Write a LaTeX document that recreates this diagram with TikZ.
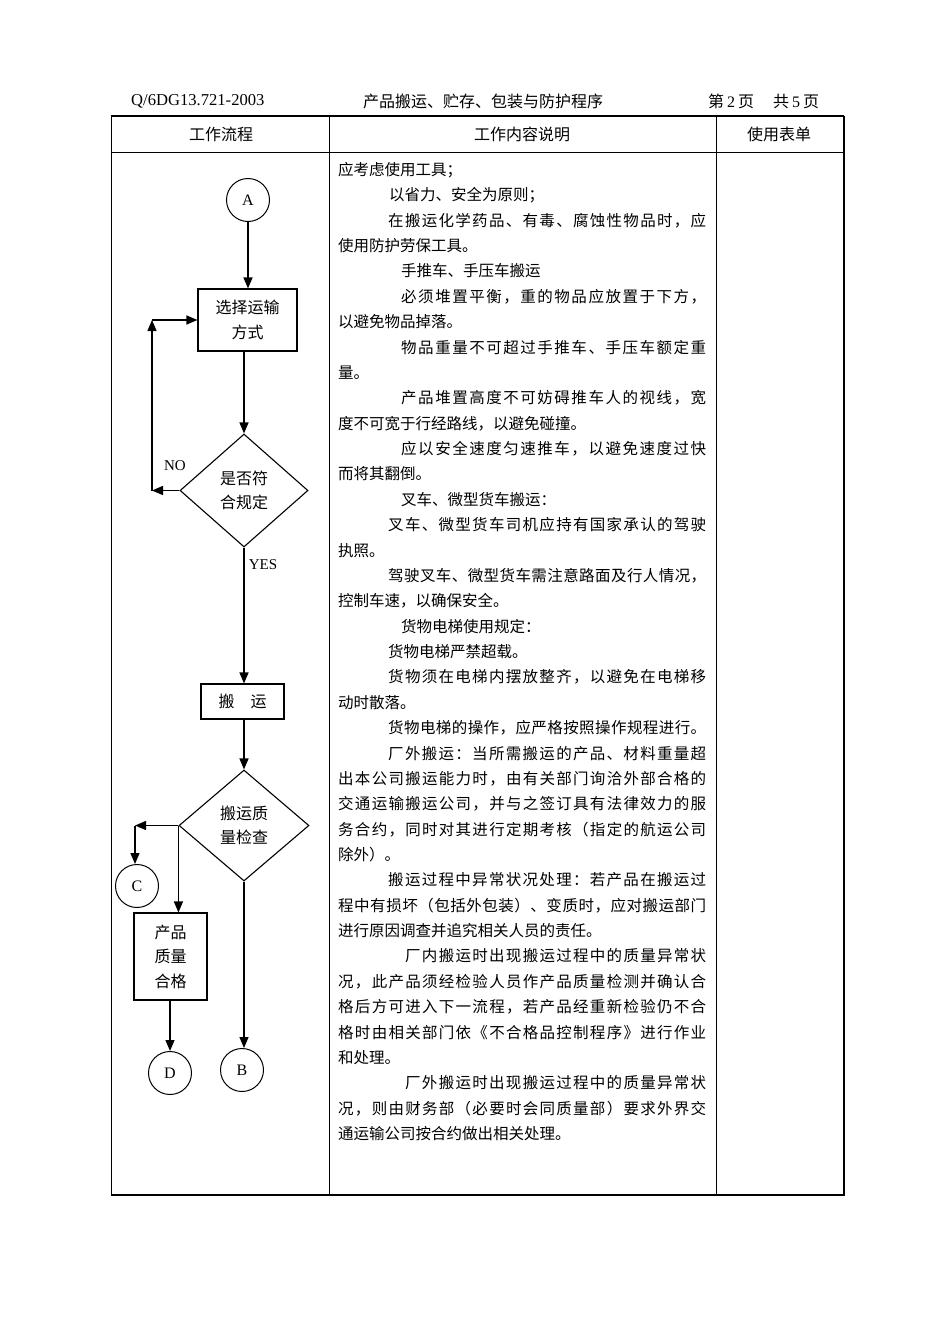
\documentclass[tikz,border=0pt]{standalone}
\usepackage{fontspec}
\setmainfont{Liberation Serif}
\newfontfamily\cjk{Noto Sans CJK SC}
\usetikzlibrary{arrows.meta,shapes.geometric}
\def\spEnd{spEndMarker}
\def\spA#1{#1\spB}
\def\spB#1{\ifx\spEnd#1\else\hfil#1\expandafter\spB\fi}
\newcommand\jl[2]{\hbox to #1pt{\spA#2\spEnd}}
\tikzset{
  txt/.style={anchor=base west, inner sep=0pt, font=\cjk\fontsize{15.5}{18}\selectfont},
  hdr/.style={inner sep=0pt, font=\cjk\fontsize{16}{18}\selectfont},
  flowbox/.style={draw, line width=1.1pt, inner sep=0pt, align=center, font=\cjk\fontsize{16}{24.5}\selectfont},
  decision/.style={draw, diamond, line width=1.1pt, inner sep=0pt, align=center, font=\cjk\fontsize{16}{24.5}\selectfont},
  conn/.style={draw, circle, line width=1pt, inner sep=0pt, minimum size=43pt, font=\fontsize{16}{18}\selectfont},
  arr/.style={line width=1.4pt, -{Triangle[length=11pt,width=9pt]}},
  lbl/.style={inner sep=0pt, font=\fontsize{15}{18}\selectfont}
}
\begin{document}
\begin{tikzpicture}[x=1pt,y=-1pt]
\useasboundingbox[fill=white] (0,0) rectangle (950,1344);
% header line
\node[anchor=west, inner sep=0pt, font=\fontsize{16.6}{18}\selectfont] (code) at (131,101) {Q/6DG13.721-2003};
\node[hdr] (title) at (483,101) {产品搬运、贮存、包装与防护程序};
\node[anchor=west, inner sep=0pt, font=\fontsize{16}{18}\selectfont] (page) at (708,101) {{\cjk 第}\hspace{3pt}2\hspace{3pt}{\cjk 页}\hspace{19pt}{\cjk 共}\hspace{3pt}5\hspace{3pt}{\cjk 页}};
% table
\draw[line width=1pt] (111,116) rectangle (843,1195);
\draw[line width=1.6pt] (111,116) -- (844,116);
\draw[line width=1.6pt] (111,1195) -- (844,1195);
\draw[line width=2.2pt] (844,116) -- (844,1196);
\draw[line width=1pt] (111,152) -- (843,152);
\draw[line width=1pt] (329,116) -- (329,1195);
\draw[line width=1pt] (716,116) -- (716,1195);
\node[hdr] (h1) at (221,134) {工作流程};
\node[hdr] (h2) at (522,134) {工作内容说明};
\node[hdr] (h3) at (779,134) {使用表单};
% flowchart
\node[conn] (A) at (248,200) {A};
\node[flowbox, minimum width=99pt, minimum height=62pt] (b1) at (247.5,320) {选择运输\\方式};
\node[decision, minimum width=128pt, minimum height=113pt] (d1) at (244,490.5) {是否符\\合规定};
\node[flowbox, minimum width=83pt, minimum height=35pt] (b2) at (242.5,701.5) {搬\hspace{16pt}运};
\node[decision, minimum width=130pt, minimum height=111pt] (d2) at (244,825.5) {搬运质\\量检查};
\node[flowbox, minimum width=73pt, minimum height=87pt] (b3) at (170.5,956.5) {产品\\质量\\合格};
\node[conn] (C) at (137,886) {C};
\node[conn] (D) at (170,1073) {D};
\node[conn] (B) at (242,1070) {B};
\node[lbl] (no) at (175,466) {NO};
\node[lbl] (yes) at (263,565) {YES};
\coordinate (lb) at (152,490.5);
\coordinate (lt) at (152,320);
\coordinate (cl) at (135,825.5);
\draw[arr] (A.south) -- (A.south |- b1.north);
\draw[arr] (b1.south -| d1.north) -- (d1.north);
\draw[arr] (d1.west) -- (lb);
\draw[arr] (lb) -- (lt);
\draw[arr] (lt) -- (b1.west);
\draw[arr] (d1.south) -- (d1.south |- b2.north);
\draw[arr] (b2.south -| d2.north) -- (d2.north);
\draw[arr] (d2.west) -- (cl);
\draw[arr] (cl) -- (cl |- C.north);
\draw[arr] (d2.west) -- (d2.west |- b3.north);
\draw[arr] (b3.south -| D.north) -- (D.north);
\draw[arr] (d2.south) -- (d2.south |- B.north);
% text column
\node[txt] (t1) at (338,175) {应考虑使用工具；};
\node[txt] (t2) at (389,200) {以省力、安全为原则；};
\node[txt] (t3) at (388,226) {\jl{318}{在搬运化学药品、有毒、腐蚀性物品时，应}};
\node[txt] (t4) at (338,251) {使用防护劳保工具。};
\node[txt] (t5) at (401,276) {手推车、手压车搬运};
\node[txt] (t6) at (401,302) {\jl{305}{必须堆置平衡，重的物品应放置于下方，}};
\node[txt] (t7) at (338,327) {以避免物品掉落。};
\node[txt] (t8) at (401,353) {\jl{305}{物品重量不可超过手推车、手压车额定重}};
\node[txt] (t9) at (338,378) {量。};
\node[txt] (t10) at (401,403) {\jl{305}{产品堆置高度不可妨碍推车人的视线，宽}};
\node[txt] (t11) at (338,429) {度不可宽于行经路线，以避免碰撞。};
\node[txt] (t12) at (401,454) {\jl{305}{应以安全速度匀速推车，以避免速度过快}};
\node[txt] (t13) at (338,479) {而将其翻倒。};
\node[txt] (t14) at (401,505) {叉车、微型货车搬运：};
\node[txt] (t15) at (388,530) {\jl{318}{叉车、微型货车司机应持有国家承认的驾驶}};
\node[txt] (t16) at (338,556) {执照。};
\node[txt] (t17) at (388,581) {\jl{318}{驾驶叉车、微型货车需注意路面及行人情况，}};
\node[txt] (t18) at (338,606) {控制车速，以确保安全。};
\node[txt] (t19) at (401,632) {货物电梯使用规定：};
\node[txt] (t20) at (388,657) {货物电梯严禁超载。};
\node[txt] (t21) at (388,682) {\jl{318}{货物须在电梯内摆放整齐，以避免在电梯移}};
\node[txt] (t22) at (338,708) {动时散落。};
\node[txt] (t23) at (388,733) {\jl{318}{货物电梯的操作，应严格按照操作规程进行。}};
\node[txt] (t24) at (388,759) {\jl{318}{厂外搬运：当所需搬运的产品、材料重量超}};
\node[txt] (t25) at (338,784) {\jl{368}{出本公司搬运能力时，由有关部门询洽外部合格的}};
\node[txt] (t26) at (338,809) {\jl{368}{交通运输搬运公司，并与之签订具有法律效力的服}};
\node[txt] (t27) at (338,835) {\jl{368}{务合约，同时对其进行定期考核（指定的航运公司}};
\node[txt] (t28) at (338,860) {除外）。};
\node[txt] (t29) at (388,885) {\jl{318}{搬运过程中异常状况处理：若产品在搬运过}};
\node[txt] (t30) at (338,911) {\jl{368}{程中有损坏（包括外包装）、变质时，应对搬运部门}};
\node[txt] (t31) at (338,936) {进行原因调查并追究相关人员的责任。};
\node[txt] (t32) at (405,961) {\jl{301}{厂内搬运时出现搬运过程中的质量异常状}};
\node[txt] (t33) at (338,987) {\jl{368}{况，此产品须经检验人员作产品质量检测并确认合}};
\node[txt] (t34) at (338,1012) {\jl{368}{格后方可进入下一流程，若产品经重新检验仍不合}};
\node[txt] (t35) at (338,1038) {\jl{368}{格时由相关部门依《不合格品控制程序》进行作业}};
\node[txt] (t36) at (338,1063) {和处理。};
\node[txt] (t37) at (405,1088) {\jl{301}{厂外搬运时出现搬运过程中的质量异常状}};
\node[txt] (t38) at (338,1114) {\jl{368}{况，则由财务部（必要时会同质量部）要求外界交}};
\node[txt] (t39) at (338,1139) {通运输公司按合约做出相关处理。};
\end{tikzpicture}
\end{document}
